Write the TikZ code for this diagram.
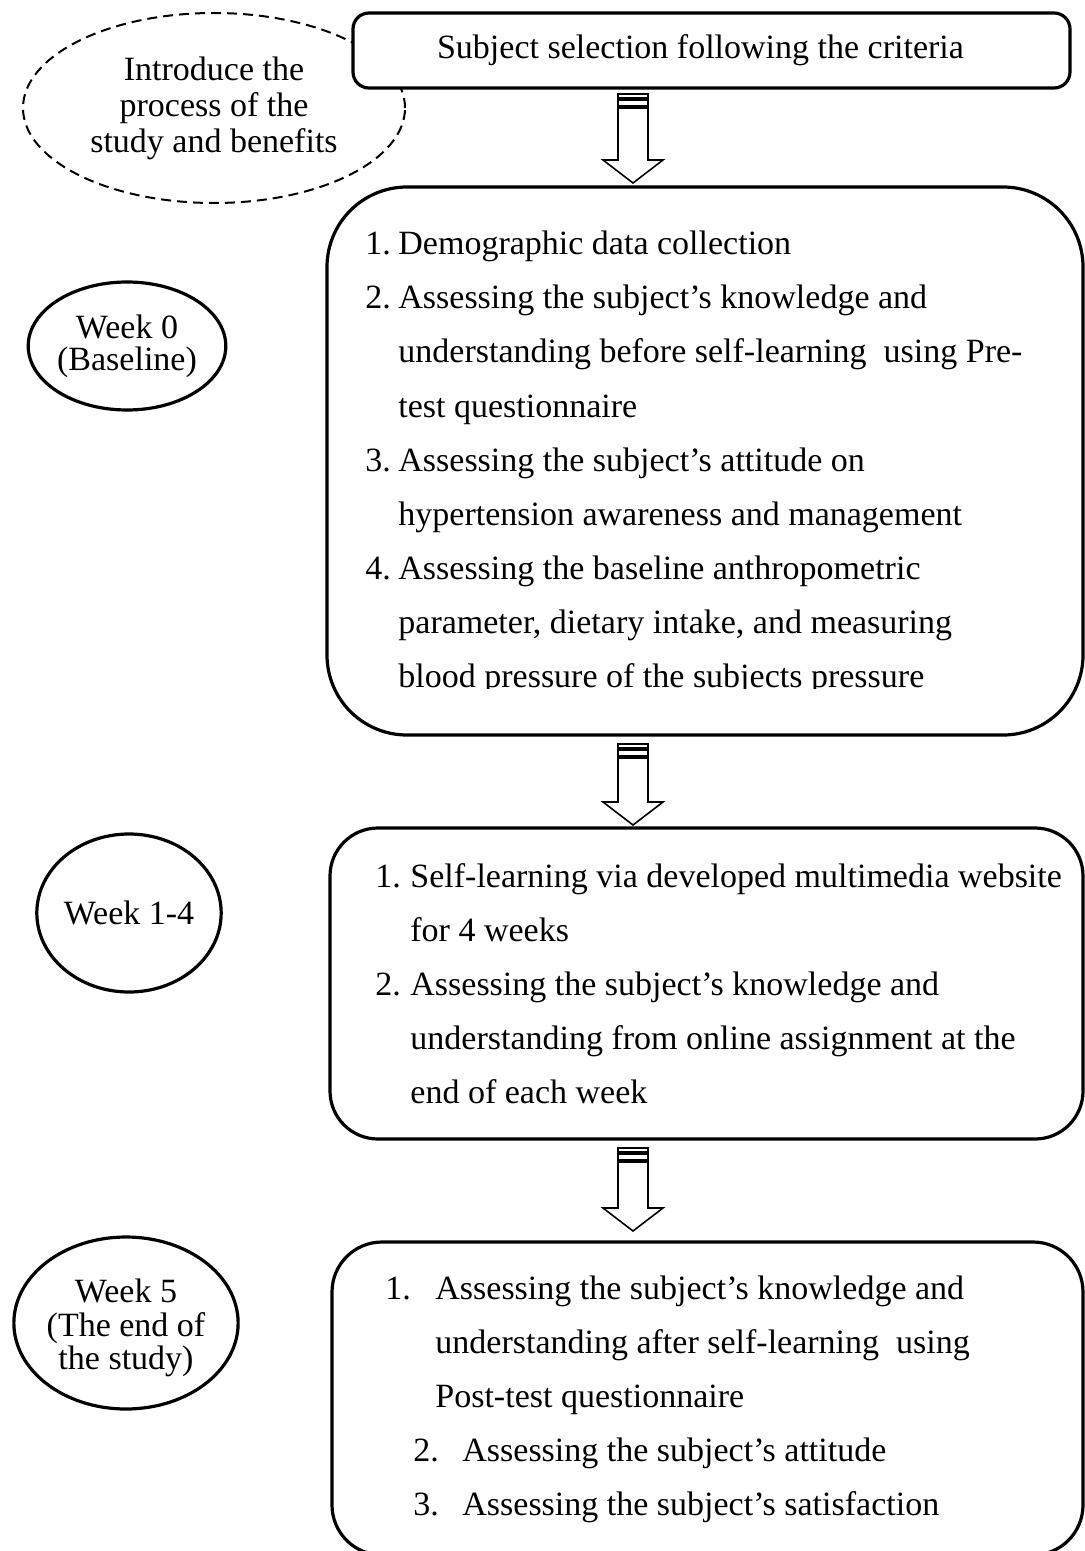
\documentclass[tikz,border=0pt]{standalone}
\usepackage{fontspec}
\setmainfont{Liberation Serif}
\usetikzlibrary{shapes.geometric}
\begin{document}
\begin{tikzpicture}[x=0.5pt,y=-0.5pt,
  every node/.style={font=\fontsize{17}{27}\selectfont},
  box/.style={draw, line width=1.6pt, fill=white, rectangle, inner sep=0pt},
  phase/.style={draw, ellipse, line width=1.6pt, inner sep=0pt, align=center, font=\fontsize{17}{16}\selectfont},
  note/.style={draw, ellipse, dash pattern=on 5pt off 3pt, line width=1pt, inner sep=0pt, align=center, font=\fontsize{17}{18}\selectfont},
  txt/.style={anchor=base west, inner sep=0pt},
  arrowline/.style={line width=0.8pt, fill=white},
  stripedarrow/.pic={
    \draw[arrowline] (-15,0) rectangle (15,4);
    \draw[arrowline] (-15,6) rectangle (15,12);
    \draw[arrowline] (-15,14) -- (-15,#1) -- (-30,#1) -- (0,#1+23) -- (30,#1) -- (15,#1) -- (15,14) -- cycle;
  }
]
\useasboundingbox[fill=white] (0,0) rectangle (1085,1551);

% dashed note ellipse (behind the top box)
\node[note, minimum width=191pt, minimum height=95pt] (intro) at (214,108)
  {Introduce the\\process of the\\study and benefits};

% top box
\node[box, rounded corners=8pt, minimum width=358.5pt, minimum height=37.5pt] (select) at (711.5,50.5)
  {Subject selection following the criteria\hspace*{11pt}};

% main boxes
\node[box, rounded corners=40pt, minimum width=378pt, minimum height=274pt] (base) at (705,461) {};
\node[box, rounded corners=24pt, minimum width=376.5pt, minimum height=155.5pt] (learn) at (706.5,983.5) {};
\node[box, rounded corners=25pt, minimum width=375.5pt, minimum height=156.5pt] (final) at (707.5,1398.5) {};

% phase ellipses
\node[phase, minimum width=92pt, minimum height=64pt] (w0) at (127,346) {Week 0\\(Baseline)};
\node[phase, minimum width=91pt, minimum height=79pt] (w14) at (129,913) {Week 1-4};
\node[phase, minimum width=104pt, minimum height=86pt] (w5) at (126,1323)
  {\raisebox{-3pt}[\height][\depth]{\begin{tabular}{@{}c@{}}Week 5\\(The end of\\the study)\end{tabular}}};

% striped block arrows
\pic at (633,94) {stripedarrow=66};
\pic at (633,744) {stripedarrow=58};
\pic at (633,1148) {stripedarrow=60};

% text of box 1
\node[txt] (b1n1) at (365,255) {1.};
\node[txt] (b1t1) at (398,255) {Demographic data collection};
\node[txt] (b1n2) at (365,309) {2.};
\node[txt] (b1t2) at (398,309) {Assessing the subject’s knowledge and};
\node[txt] (b1t3) at (398,363) {understanding before self-learning~ using Pre-};
\node[txt] (b1t4) at (398,417) {test questionnaire};
\node[txt] (b1n3) at (365,471) {3.};
\node[txt] (b1t5) at (398,471) {Assessing the subject’s attitude on};
\node[txt] (b1t6) at (398,525) {hypertension awareness and management};
\node[txt] (b1n4) at (365,579) {4.};
\node[txt] (b1t7) at (398,579) {Assessing the baseline anthropometric};
\node[txt] (b1t8) at (398,633) {parameter, dietary intake, and measuring};
\begin{scope}
  \clip (340,600) rectangle (1070,688);
  \node[txt] (b1t9) at (398,687) {blood pressure of the subjects pressure};
\end{scope}

% text of box 2
\node[txt] (b2n1) at (375,887) {1.};
\node[txt] (b2t1) at (410,887) {Self-learning via developed multimedia website};
\node[txt] (b2t2) at (410,941) {for 4 weeks};
\node[txt] (b2n2) at (375,995) {2.};
\node[txt] (b2t3) at (410,995) {Assessing the subject’s knowledge and};
\node[txt] (b2t4) at (410,1049) {understanding from online assignment at the};
\node[txt] (b2t5) at (410,1103) {end of each week};

% text of box 3
\node[txt] (b3n1) at (385,1299) {1.};
\node[txt] (b3t1) at (435,1299) {Assessing the subject’s knowledge and};
\node[txt] (b3t2) at (435,1353) {understanding after self-learning~ using};
\node[txt] (b3t3) at (435,1407) {Post-test questionnaire};
\node[txt] (b3n2) at (413,1461) {2.};
\node[txt] (b3t4) at (462,1461) {Assessing the subject’s attitude};
\node[txt] (b3n3) at (413,1515) {3.};
\node[txt] (b3t5) at (462,1515) {Assessing the subject’s satisfaction};
\end{tikzpicture}
\end{document}
